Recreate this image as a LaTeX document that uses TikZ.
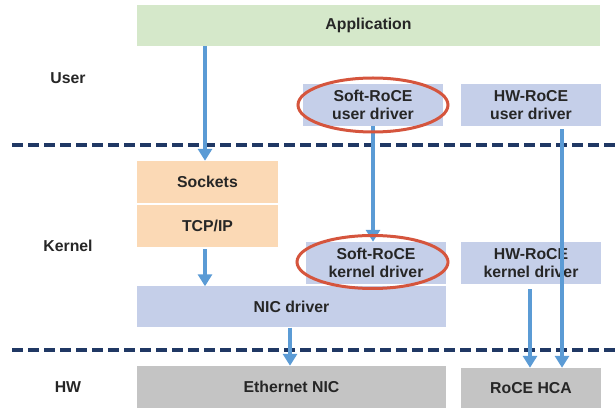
\documentclass[tikz,border=0pt]{standalone}
\usepackage{fontspec}
\setmainfont{Liberation Sans}
\usetikzlibrary{arrows.meta,calc}

\definecolor{appgreen}{HTML}{D5E8CA}
\definecolor{drvblue}{HTML}{C5CFE9}
\definecolor{stackpeach}{HTML}{FBD9B5}
\definecolor{hwgray}{HTML}{C4C4C4}
\definecolor{flowblue}{HTML}{5B9BD5}
\definecolor{layernavy}{HTML}{203864}
\definecolor{markred}{HTML}{D5553D}
\definecolor{txtgray}{HTML}{262626}

\tikzset{
  x=1pt, y=-1pt,
  every node/.style={font=\fontsize{15.8}{18.5}\selectfont\bfseries, text=txtgray, align=center, inner sep=0pt},
  blk/.style={minimum width=#1, minimum height=42pt},
  appbox/.style={blk=463pt, fill=appgreen, minimum height=41pt},
  drvbox/.style={blk=#1, fill=drvblue},
  stackbox/.style={blk=141pt, fill=stackpeach},
  hwbox/.style={blk=#1, fill=hwgray},
  flow/.style={draw=flowblue, line width=4pt, -{Triangle[width=14pt,length=12pt]}},
  layerline/.style={draw=layernavy, line width=4pt, dash pattern=on 11pt off 5pt},
  highlight/.style={draw=markred, line width=3pt}
}

\begin{document}
\begin{tikzpicture}
\useasboundingbox (0,0) rectangle (616,411);

% layer labels
\node (luser) at (68,78) {User};
\node (lkern) at (68,246) {Kernel};
\node (lhw)   at (68,387) {HW};

% user space
\node[appbox] (app) at (368.5,25.5) {Application};
\node[drvbox=140pt] (suser) at (373,105) {Soft-RoCE\\user driver};
\node[drvbox=140pt] (huser) at (531,105) {HW-RoCE\\user driver};

% kernel
\node[stackbox] (sock) at (207.5,182) {Sockets};
\node[stackbox] (tcp)  at (207.5,226) {TCP/IP};
\node[drvbox=140pt] (skern) at (376,263) {Soft-RoCE\\kernel driver};
\node[drvbox=140pt] (hkern) at (531,263) {HW-RoCE\\kernel driver};
\node[drvbox=309pt, minimum height=41pt] (nic) at (291.5,307) {NIC driver};

% hardware
\node[hwbox=309pt] (eth) at (291.5,387) {Ethernet NIC};
\node[hwbox=140pt, minimum height=40pt] (hca) at (531,388) {RoCE HCA};

% layer boundaries
\coordinate (b1l) at (12,145);
\coordinate (b1r) at (616,145);
\coordinate (b2l) at (12,350);
\coordinate (b2r) at (616,350);
\draw[layerline] (b1l) -- (b1r);
\draw[layerline] (b2l) -- (b2r);

% data paths
\draw[flow] ([xshift=-2.5pt]app.south -| sock.north) -- ([xshift=-2.5pt]sock.north);
\draw[flow] ([xshift=-2.5pt,yshift=-2pt]tcp.south) -- ([xshift=-2.5pt]tcp.south |- nic.north);
\draw[flow] (suser.south) -- (suser.south |- skern.north);
\draw[flow] ([xshift=-1.5pt]nic.south) -- ([xshift=-1.5pt]nic.south |- eth.north);
\draw[flow] ([xshift=-1pt,yshift=-5pt]hkern.south) -- ([xshift=-1pt]hca.north);
\draw[flow] ([xshift=31pt,yshift=-3pt]huser.south) -- ([xshift=31pt]hca.north);

% highlighted software RoCE components
\draw[highlight] (373,105) ellipse [x radius=75pt, y radius=27pt];
\draw[highlight] (372.5,262) ellipse [x radius=75.5pt, y radius=26.5pt];
\end{tikzpicture}
\end{document}
